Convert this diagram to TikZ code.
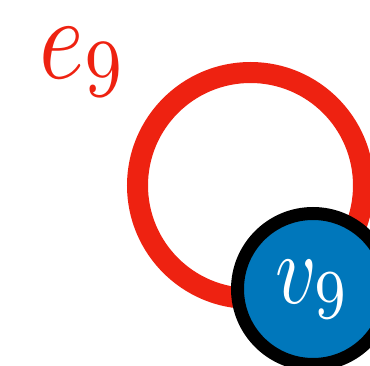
\documentclass[tikz,border=0pt]{standalone}
\usepackage{graphicx}
\usepackage{tikz}
\definecolor{edgered}{RGB}{238,34,17}
\definecolor{nodeblue}{RGB}{0,119,187}
\begin{document}
\begin{tikzpicture}[x=1pt,y=1pt,
  vertex/.style={circle,fill=nodeblue,draw=black,line width=13pt,minimum size=151pt,inner sep=0pt,text=white},
  looplabel/.style={text=edgered,inner sep=0pt},
  loopedge/.style={draw=edgered,line width=21pt}]
\useasboundingbox (0,0) rectangle (370,365);
\coordinate (lc) at (250.5,179.5);
\draw[loopedge] (lc) circle[radius=113];
\node[vertex] (v9) at (313,76) {\scalebox{8}[10]{$v_9$}};
\node[looplabel] (e9) at (83.5,303) {\scalebox{9.6}[11.8]{$e_9$}};
\end{tikzpicture}
\end{document}
